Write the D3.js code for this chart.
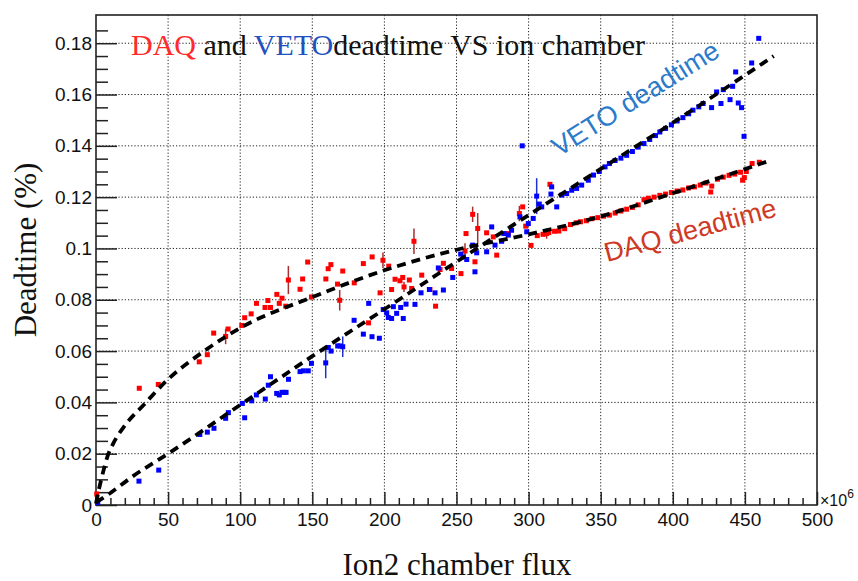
<!DOCTYPE html>
<html>
<head>
<meta charset="utf-8">
<title>DAQ and VETO deadtime</title>
<script src="https://d3js.org/d3.v7.min.js"></script>
<style>
  body { margin: 0; background: #fff; }
  svg { display: block; }
</style>
</head>
<body>
<script>
// flux in units of 10^6, deadtime in %
const daqFlux = [0.5, 30, 43.2, 71.6, 77.2, 81.6, 89.9, 91.6, 101.1, 103.1, 107.6, 111.3, 117.2, 119.2, 121, 125.4,
  127.1, 129, 131.6, 133.4, 141.5, 143.3, 146.8, 149.4, 159.4, 161, 162.9, 167.5, 169, 171.1, 179.1, 185.4, 189,
  191.5, 197, 199, 203, 205, 207.4, 210.8, 212.7, 213.6, 217.3, 218.9, 220.5, 225.9, 231.6, 235.5, 238.6, 240.9,
  246.6, 253.1, 255.9, 256.6, 261.2, 262.8, 264.7, 270.9, 275.5, 277.9, 285.9, 293.6, 295.9, 298, 301.7, 306, 310,
  312.5, 314, 314.8, 318, 321, 325, 329, 333, 336, 340, 344, 348, 352, 356, 360, 364, 368, 372, 376, 380, 383, 387,
  391, 395, 399, 403, 407, 411, 415, 419, 423, 426.3, 427, 431, 435, 439, 443, 447, 448.4, 449.6, 451, 455, 460];
const daqDead = [0.0043, 0.0455, 0.047, 0.0558, 0.0586, 0.067, 0.0657, 0.0686, 0.070, 0.073, 0.0745, 0.0786, 0.077,
  0.0797, 0.077, 0.0821, 0.0786, 0.0806, 0.0775, 0.0877, 0.0841, 0.0881, 0.0947, 0.0811, 0.0881, 0.0921, 0.0937,
  0.0861, 0.0798, 0.0912, 0.0866, 0.0941, 0.071, 0.0967, 0.0827, 0.0954, 0.0931, 0.084, 0.088, 0.0874, 0.0887, 0.085,
  0.0877, 0.0844, 0.1028, 0.0896, 0.084, 0.0775, 0.0918, 0.0942, 0.0922, 0.0902, 0.099, 0.1058, 0.1133, 0.0948,
  0.1078, 0.1061, 0.1045, 0.0974, 0.1058, 0.1136, 0.1162, 0.1087, 0.1012, 0.1050, 0.1055, 0.1058, 0.1062, 0.125,
  0.1067, 0.1068, 0.1077, 0.1093, 0.1100, 0.1104, 0.1108, 0.1116, 0.1120, 0.1126, 0.1130, 0.1138, 0.1146, 0.1153,
  0.1160, 0.1170, 0.1190, 0.1196, 0.1200, 0.1207, 0.1212, 0.1218, 0.1224, 0.1228, 0.1236, 0.1240, 0.1247, 0.1255,
  0.122, 0.1243, 0.1270, 0.1278, 0.1285, 0.1290, 0.1297, 0.1266, 0.1276, 0.1300, 0.1331, 0.1336];
const daqErr = {6: 0.003, 19: 0.0055, 28: 0.004, 35: 0.003, 41: 0.002, 44: 0.005, 52: 0.003, 54: 0.003, 56: 0.006,
  61: 0.003, 67: 0.002};

const vetoFlux = [1.2, 29.8, 43.5, 72, 77.2, 81.8, 89.9, 91.8, 101.5, 103.1, 108, 111.2, 117.4, 119.5, 121, 125.3,
  127.1, 129, 130.4, 131.8, 133.5, 141.5, 143.8, 147.2, 149.4, 159.3, 161.1, 163, 167.6, 169.2, 171.1, 179, 185.4,
  189.1, 191.4, 196.5, 199.2, 201.6, 202.7, 205, 206.2, 208.5, 211.3, 213.1, 215, 221.2, 225.4, 231.2, 235.1, 237.4,
  240.9, 247.4, 252.9, 254.8, 257.1, 261.2, 262.8, 264, 270.9, 274.4, 276.7, 281.3, 282.9, 285.9, 288.2, 294, 295.6,
  298.7, 299.8, 303.2, 305.6, 307.4, 309.1, 315.5, 316, 319.5, 323, 326.4, 329.9, 333.3, 336.8, 341.4, 345, 349, 353,
  356, 360, 364, 368, 372, 376, 380, 384, 388, 391, 395, 399, 403, 407, 411, 414, 418, 421, 426.9, 430.4, 433.4, 435,
  439.7, 441.5, 443.6, 445.4, 447.7, 449.4, 454.7, 459.6];
const vetoDead = [0.0009, 0.0093, 0.0136, 0.0275, 0.0284, 0.0299, 0.0338, 0.036, 0.0396, 0.034, 0.0406, 0.0429,
  0.0413, 0.0467, 0.05, 0.0435, 0.0429, 0.0439, 0.0439, 0.0439, 0.049, 0.052, 0.0523, 0.0523, 0.0552, 0.0554, 0.0614,
  0.060, 0.062, 0.062, 0.0617, 0.072, 0.0666, 0.0786, 0.0656, 0.065, 0.0762, 0.0749, 0.0731, 0.0727, 0.0773, 0.0747,
  0.077, 0.0727, 0.0783, 0.0782, 0.0827, 0.084, 0.0827, 0.0924, 0.0838, 0.0887, 0.0978, 0.0967, 0.0957, 0.1013,
  0.0909, 0.0983, 0.0987, 0.1084, 0.1013, 0.1028, 0.1058, 0.1052, 0.1071, 0.1123, 0.140, 0.1065, 0.1097, 0.1117,
  0.1204, 0.1173, 0.1162, 0.1212, 0.124, 0.1162, 0.1208, 0.1214, 0.1227, 0.1234, 0.1247, 0.1266, 0.1286, 0.1300,
  0.1318, 0.1331, 0.1343, 0.1352, 0.1363, 0.1378, 0.1395, 0.1409, 0.1425, 0.1440, 0.1454, 0.1468, 0.1482, 0.1497,
  0.1510, 0.1525, 0.1539, 0.1552, 0.1565, 0.1549, 0.161, 0.1565, 0.1619, 0.158, 0.1632, 0.1688, 0.1567, 0.1549,
  0.1437, 0.1723, 0.1819];
const vetoErr = {25: 0.006, 30: 0.004, 70: 0.007};

// fit curves
const daqFitX = [0, 2, 5, 8, 12, 20, 33, 50, 75, 100, 150, 200, 250, 300, 350, 400, 466];
const daqFitY = [0.0005, 0.006, 0.013, 0.019, 0.024, 0.031, 0.039, 0.049, 0.060, 0.069, 0.081, 0.0915, 0.0995,
  0.1055, 0.1125, 0.1215, 0.134];
const vetoFitX = [0, 10, 25, 50, 100, 150, 200, 250, 300, 350, 400, 450, 470];
const vetoFitY = [0.001, 0.0047, 0.011, 0.020, 0.039, 0.058, 0.0763, 0.0948, 0.113, 0.131, 0.149, 0.1675, 0.175];

const xTicks = [0, 50, 100, 150, 200, 250, 300, 350, 400, 450, 500];
const yTicks = [0, 0.02, 0.04, 0.06, 0.08, 0.1, 0.12, 0.14, 0.16, 0.18];

const W = 858, H = 581;
const margin = {left: 96, top: 15, right: 41, bottom: 76};
const w = W - margin.left - margin.right;
const h = H - margin.top - margin.bottom;

const svg = d3.select("body").append("svg").attr("width", W).attr("height", H);
const g = svg.append("g").attr("transform", "translate(" + margin.left + "," + margin.top + ")");

const x = d3.scaleLinear().domain([0, 500]).range([0, w]);
const y = d3.scaleLinear().domain([0, 0.191]).range([h, 0]);

// grid
g.append("g").selectAll("line").data(xTicks.slice(1, -1)).enter().append("line")
  .attr("x1", d => x(d)).attr("x2", d => x(d)).attr("y1", 0).attr("y2", h)
  .attr("stroke", "#222").attr("stroke-width", 1).attr("stroke-dasharray", "1.2,2");
g.append("g").selectAll("line").data(yTicks.slice(1)).enter().append("line")
  .attr("x1", 0).attr("x2", w).attr("y1", d => y(d)).attr("y2", d => y(d))
  .attr("stroke", "#222").attr("stroke-width", 1).attr("stroke-dasharray", "1.2,2");

// axes (ticks inside the frame, like ROOT)
const xMinor = d3.range(0, 501, 10).filter(v => v % 50 !== 0);
const yMinor = d3.range(0, 38).map(i => i * 0.005).filter((v, i) => i % 4 !== 0);

g.append("g").attr("transform", "translate(0," + h + ")")
  .call(d3.axisBottom(x).tickValues(xTicks).tickSizeInner(-13).tickSizeOuter(0).tickPadding(8).tickFormat(d3.format("d")));
g.append("g").attr("transform", "translate(0," + h + ")")
  .call(d3.axisBottom(x).tickValues(xMinor).tickSizeInner(-7).tickSizeOuter(0).tickFormat(""));
g.append("g")
  .call(d3.axisLeft(y).tickValues(yTicks).tickSizeInner(-21).tickSizeOuter(0).tickPadding(4)
    .tickFormat(d => d === 0 ? "0" : d3.format("~g")(d)));
g.append("g")
  .call(d3.axisLeft(y).tickValues(yMinor).tickSizeInner(-12).tickSizeOuter(0).tickFormat(""));

g.selectAll(".domain").remove();
g.selectAll(".tick line").attr("stroke", "#222").attr("stroke-width", 1.5);
g.selectAll(".tick text").attr("font-family", "Liberation Sans, Arial, sans-serif").attr("font-size", 19).attr("fill", "#111");

// frame
g.append("rect").attr("width", w).attr("height", h).attr("fill", "none")
  .attr("stroke", "#222").attr("stroke-width", 1.6);

// points
function drawSeries(xs, ys, errs, color, errColor) {
  const pts = xs.map((v, i) => ({x: v, y: ys[i], e: errs[i] || 0}));
  g.append("g").selectAll("line").data(pts.filter(p => p.e > 0)).enter().append("line")
    .attr("x1", p => x(p.x)).attr("x2", p => x(p.x))
    .attr("y1", p => y(p.y - p.e)).attr("y2", p => y(p.y + p.e))
    .attr("stroke", errColor).attr("stroke-width", 1.5);
  g.append("g").selectAll("rect").data(pts).enter().append("rect")
    .attr("x", p => x(p.x) - 2.5).attr("y", p => y(p.y) - 2.5)
    .attr("width", 5).attr("height", 5).attr("fill", color);
}
drawSeries(daqFlux, daqDead, daqErr, "#ff0000", "#a83030");
drawSeries(vetoFlux, vetoDead, vetoErr, "#0000ff", "#2030d0");

// fits
const line = d3.line().x(d => x(d[0])).y(d => y(d[1])).curve(d3.curveMonotoneX);
[[daqFitX, daqFitY], [vetoFitX, vetoFitY]].forEach(function(f) {
  g.append("path").datum(f[0].map((v, i) => [v, f[1][i]]))
    .attr("d", line).attr("fill", "none").attr("stroke", "#000")
    .attr("stroke-width", 3.8).attr("stroke-dasharray", "9,6");
});

// title
const title = svg.append("text").attr("x", 131).attr("y", 55)
  .attr("font-family", "Liberation Serif, Times New Roman, serif").attr("font-size", 30).attr("fill", "#111");
title.append("tspan").attr("fill", "#ff2a2a").text("DAQ");
title.append("tspan").text(" and ");
title.append("tspan").attr("fill", "#1f52c0").text("VETO");
title.append("tspan").text("deadtime VS ion chamber");

// curve labels
svg.append("text").attr("transform", "translate(559,157) rotate(-32)")
  .attr("font-family", "Liberation Sans, Arial, sans-serif").attr("font-size", 27).attr("fill", "#2b7bcb")
  .text("VETO deadtime");
svg.append("text").attr("transform", "translate(607,262) rotate(-15)")
  .attr("font-family", "Liberation Sans, Arial, sans-serif").attr("font-size", 27).attr("fill", "#cf3a26")
  .text("DAQ deadtime");

// axis titles
svg.append("text").attr("transform", "translate(36,250) rotate(-90)").attr("text-anchor", "middle")
  .attr("font-family", "Liberation Serif, Times New Roman, serif").attr("font-size", 31).attr("fill", "#111")
  .text("Deadtime (%)");
svg.append("text").attr("x", 457).attr("y", 575).attr("text-anchor", "middle")
  .attr("font-family", "Liberation Serif, Times New Roman, serif").attr("font-size", 31).attr("fill", "#111")
  .text("Ion2 chamber flux");

// x10^6 exponent
const expo = svg.append("text").attr("x", 820).attr("y", 506)
  .attr("font-family", "Liberation Sans, Arial, sans-serif").attr("font-size", 16).attr("fill", "#111");
expo.append("tspan").text("\u00d710");
expo.append("tspan").attr("font-size", 12).attr("dy", -8).text("6");
</script>
</body>
</html>
